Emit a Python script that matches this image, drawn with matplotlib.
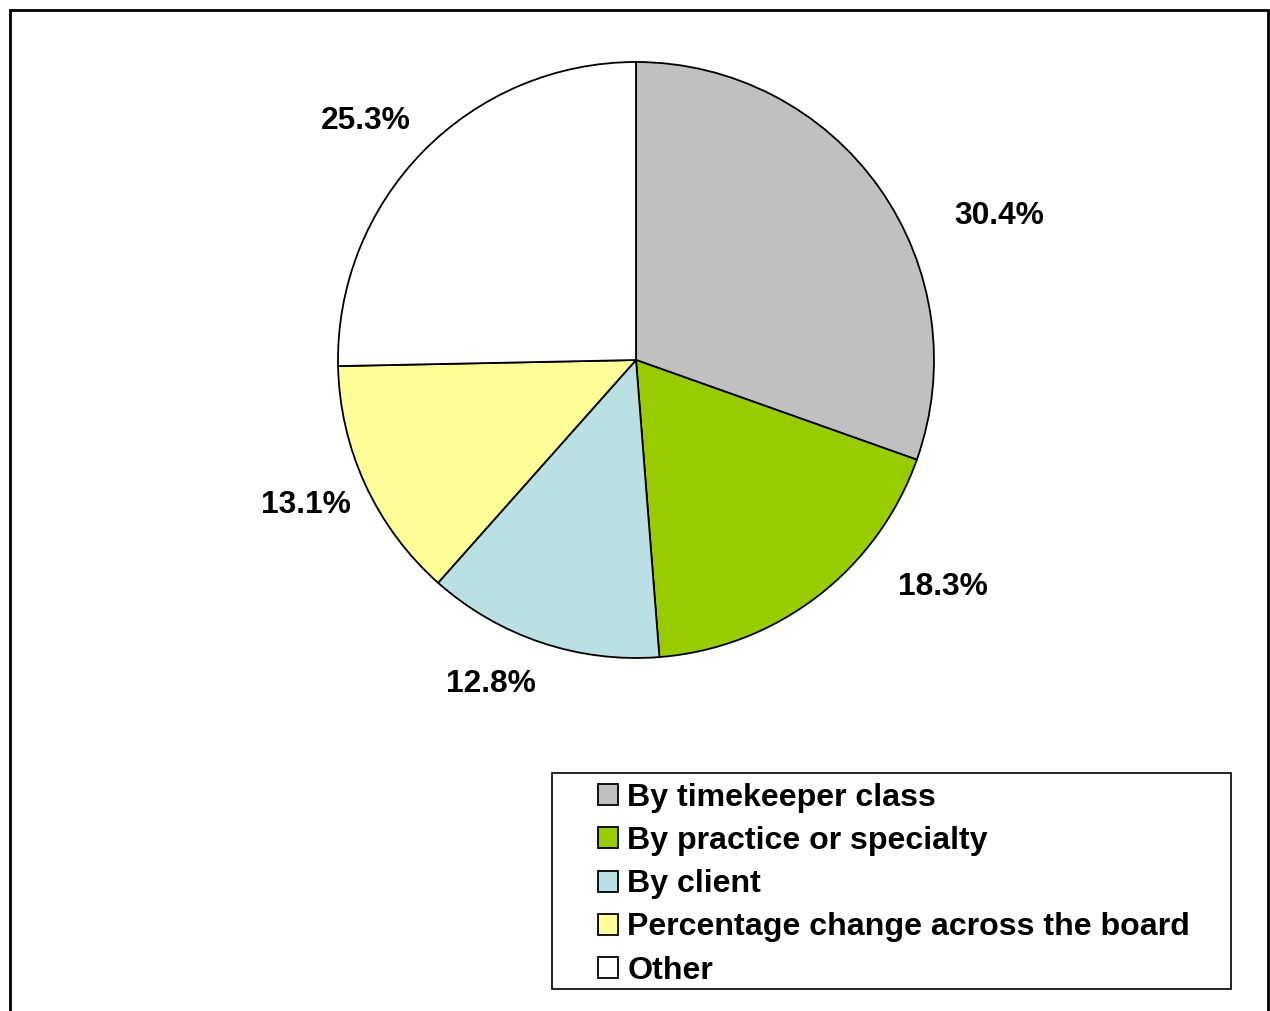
import numpy as np
import matplotlib.pyplot as plt
from matplotlib.patches import Rectangle

plt.rcParams['font.family'] = ['Liberation Sans', 'DejaVu Sans']

categories = ['By timekeeper class', 'By practice or specialty', 'By client',
              'Percentage change across the board', 'Other']
shares = [30.4, 18.3, 12.8, 13.1, 25.3]
colors = ['#C0C0C0', '#99CC00', '#BBE0E3', '#FFFF99', '#FFFFFF']

# label placement tweaks (radius, angle shift in degrees)
label_r = [1.31, 1.28, 1.19, 1.21, 1.21]
label_shift = [-13.6, 16.0, -5.5, -1.0, 3.0]

W, H = 1270, 1011
fig = plt.figure(figsize=(W / 100, H / 100), dpi=100)

cx, cy, r = 636, 360, 298
ax = fig.add_axes([(cx - r) / W, (H - cy - r) / H, 2 * r / W, 2 * r / H])
wedges, _ = ax.pie(shares, colors=colors, startangle=90, counterclock=False,
                   wedgeprops=dict(edgecolor='black', linewidth=1.3))
ax.set_xlim(-1, 1)
ax.set_ylim(-1, 1)
ax.set_aspect('equal')

for w, v, lr, sh in zip(wedges, shares, label_r, label_shift):
    mid = np.deg2rad((w.theta1 + w.theta2) / 2 + sh)
    ax.text(lr * np.cos(mid), lr * np.sin(mid), f'{v:.1f}%',
            ha='center', va='center', fontsize=22.9, fontweight='bold',
            clip_on=False)

# outer chart border
fig.patches.append(Rectangle((9.5 / W, -0.02), (1268 - 9.5) / W, 1.02 - 9.5 / H,
                             transform=fig.transFigure, fill=False,
                             edgecolor='black', linewidth=2.0))
# legend box
fig.patches.append(Rectangle((552 / W, 1 - 989 / H), (1231 - 552) / W, (989 - 773) / H,
                             transform=fig.transFigure, fill=False,
                             edgecolor='black', linewidth=1.2))

leg = fig.legend(wedges, categories, loc='upper left',
                 bbox_to_anchor=(598 / W, 1 - 783 / H),
                 frameon=False, borderpad=0, borderaxespad=0,
                 handlelength=0.63, handleheight=0.63, handletextpad=0.28,
                 labelspacing=0.41, prop=dict(size=23.1, weight='bold'))

fig.savefig('out.png', dpi=100)
